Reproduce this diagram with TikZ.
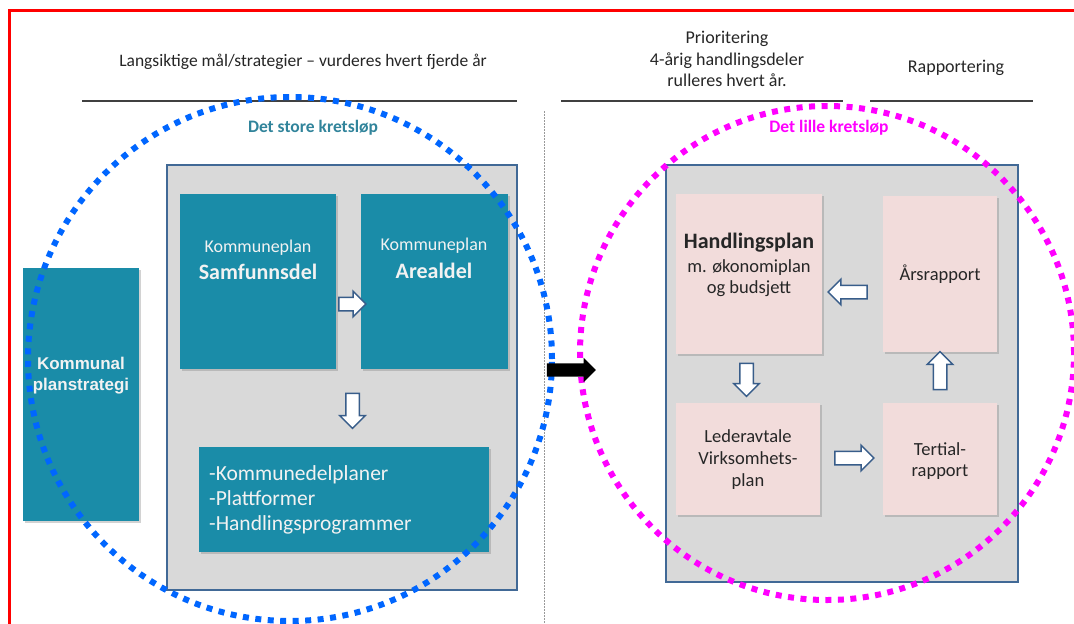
\documentclass[tikz,border=0pt]{standalone}
\usepackage{fontspec}
\setmainfont{Carlito}
\newfontfamily\arialf{Liberation Sans}
\usetikzlibrary{shapes.arrows,shadows}
\definecolor{tealc}{RGB}{26,140,168}
\definecolor{pinkc}{RGB}{242,220,219}
\definecolor{grayc}{RGB}{217,217,217}
\definecolor{framec}{RGB}{65,105,150}
\definecolor{arrowc}{RGB}{56,93,138}
\definecolor{dotblue}{RGB}{0,102,255}
\definecolor{dotmag}{RGB}{255,0,255}
\definecolor{titleblue}{RGB}{49,132,155}
\definecolor{linec}{RGB}{64,64,64}
\tikzset{
  panel/.style={draw=framec,line width=1.5pt,fill=grayc,inner sep=0pt},
  tealbox/.style={fill=tealc,inner sep=0pt,drop shadow={shadow xshift=2pt,shadow yshift=-2pt,opacity=.35}},
  pinkbox/.style={fill=pinkc,inner sep=0pt,drop shadow={shadow xshift=2pt,shadow yshift=-2pt,opacity=.35}},
  hollowarrow/.style={single arrow,draw=arrowc,fill=white,line width=1.5pt,inner sep=6pt,single arrow head extend=6pt,minimum height=#1,single arrow tip angle=90},
  dotcircle/.style={line width=6pt,dash pattern=on 6pt off 6.5pt},
  toptext/.style={text=black!85,align=center,inner sep=0pt,font=\fontsize{18}{21.5}\selectfont},
  wtext/.style={text=white!95!black,align=center,inner sep=0pt},
  btext/.style={text=black!85,align=center,inner sep=0pt,font=\fontsize{18.5}{21.5}\selectfont}
}
\begin{document}
\begin{tikzpicture}[x=1pt,y=-1pt]
\useasboundingbox (0,0) rectangle (1074,624);
\clip (0,0) rectangle (1074,624);
\fill[white] (0,0) rectangle (1074,624);
% red frame
\draw[red,line width=3pt] (9,640) -- (9,10) -- (1090,10);
% header texts
\node[toptext,font=\fontsize{17.5}{21}\selectfont] (t1) at (303,62) {Langsiktige mål/strategier – vurderes hvert fjerde år};
\node[toptext] (t2) at (727,59) {Prioritering\\4-årig handlingsdeler\\rulleres hvert år.};
\node[toptext] (t3) at (956,68) {Rapportering};
% header rules
\coordinate (l1a) at (82,101); \coordinate (l1b) at (517,101);
\coordinate (l2a) at (561,101); \coordinate (l2b) at (843,101);
\coordinate (l3a) at (870,101); \coordinate (l3b) at (1033,101);
\draw[linec,line width=1.2pt] (l1a) -- (l1b);
\draw[linec,line width=1.2pt] (l2a) -- (l2b);
\draw[linec,line width=1.2pt] (l3a) -- (l3b);
% separator
\coordinate (sepa) at (544,111); \coordinate (sepb) at (544,624);
\draw[black!40,line width=0.8pt,dash pattern=on 1.5pt off 1.5pt] (sepa) -- (sepb);
% panels
\node[panel,minimum width=350,minimum height=425] (lp) at (342,377.5) {};
\node[panel,minimum width=352,minimum height=417] (rp) at (842,373.5) {};
% left boxes
\node[tealbox,minimum width=116,minimum height=253] (kps) at (81,394.5) {};
\node[wtext,font=\arialf\bfseries\fontsize{17}{21}\selectfont] (kpst) at (81,376) {Kommunal\\planstrategi};
\node[tealbox,minimum width=156,minimum height=175] (sam) at (258,281.5) {};
\node[wtext,font=\fontsize{18}{21}\selectfont] (samt1) at (258,248) {Kommuneplan};
\node[wtext,font=\fontsize{22}{26}\selectfont\bfseries] (samt2) at (258,272) {Samfunnsdel};
\node[tealbox,minimum width=147,minimum height=175] (are) at (434.5,281.5) {};
\node[wtext,font=\fontsize{18}{21}\selectfont] (aret1) at (434,246) {Kommuneplan};
\node[wtext,font=\fontsize{22}{26}\selectfont\bfseries] (aret2) at (434,271) {Arealdel};
\node[tealbox,minimum width=290,minimum height=105] (kdp) at (344,499.5) {};
\node[wtext,align=left,anchor=west,font=\fontsize{21.5}{25}\selectfont] (kdpt) at (209,500) {-Kommunedelplaner\\-Plattformer\\-Handlingsprogrammer};
% right boxes
\node[pinkbox,minimum width=146,minimum height=160] (hp) at (749,274) {};
\node[btext,font=\fontsize{22}{26}\selectfont\bfseries] (hpt1) at (749,243) {Handlingsplan};
\node[btext] (hpt2) at (749,278) {m. økonomiplan\\og budsjett};
\node[pinkbox,minimum width=114,minimum height=156] (ar) at (940,274) {};
\node[btext] (art) at (940,274) {Årsrapport};
\node[pinkbox,minimum width=144,minimum height=112] (la) at (748,459) {};
\node[btext,font=\fontsize{18.5}{22}\selectfont] (lat) at (748,460) {Lederavtale\\Virksomhets-\\plan};
\node[pinkbox,minimum width=114,minimum height=112] (tr) at (940,459) {};
\node[btext] (trt) at (940,461) {Tertial-\\rapport};
% circles
\coordinate (cb) at (290,359);
\coordinate (cm) at (827,353);
\draw[dotblue,dotcircle] (cb) circle[radius=262pt];
\draw[dotmag,dotcircle] (cm) circle[radius=247pt];
\node[text=titleblue,font=\fontsize{17.5}{20}\selectfont\bfseries] (tb) at (313,128) {Det store kretsløp};
\node[text=dotmag,font=\fontsize{17.5}{20}\selectfont\bfseries] (tm) at (829,128) {Det lille kretsløp};
% hollow arrows
\node[hollowarrow=27] (a1) at (349,304) {};
\node[hollowarrow=35,shape border rotate=270] (a2) at (352.5,407.5) {};
\node[hollowarrow=39,shape border rotate=180] (a3) at (851,292) {};
\node[hollowarrow=33,shape border rotate=270] (a4) at (746.5,376.5) {};
\node[hollowarrow=38,shape border rotate=90] (a5) at (940,374) {};
\node[hollowarrow=39] (a6) at (851,458) {};
% black arrow
\node[single arrow,fill=black,inner sep=6.5pt,single arrow head extend=5.5pt,minimum height=49,single arrow tip angle=90] (ab) at (568,370) {};
\end{tikzpicture}
\end{document}
